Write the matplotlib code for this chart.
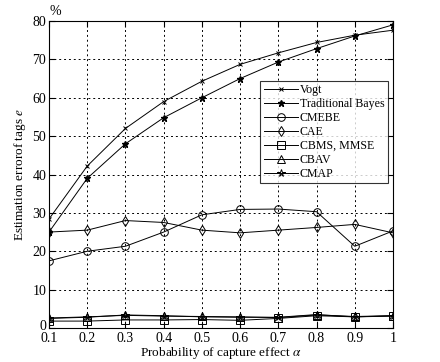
import matplotlib.pyplot as plt
import matplotlib.transforms as mtransforms

plt.rcParams["font.family"] = ["Liberation Serif", "DejaVu Serif"]
plt.rcParams["mathtext.fontset"] = "stix"

alpha = [0.1, 0.2, 0.3, 0.4, 0.5, 0.6, 0.7, 0.8, 0.9, 1.0]

vogt = [28.4, 42.2, 52.0, 59.0, 64.3, 68.7, 71.7, 74.4, 76.3, 77.6]
trad_bayes = [25.0, 39.0, 48.0, 54.8, 60.0, 65.0, 69.3, 72.8, 76.1, 79.0]
cmebe = [17.5, 20.0, 21.3, 25.0, 29.5, 30.9, 31.0, 30.3, 21.3, 25.3]
cae = [25.0, 25.5, 28.0, 27.5, 25.5, 24.8, 25.5, 26.2, 27.0, 24.8]
cbms = [1.8, 1.8, 2.1, 2.1, 2.2, 2.0, 2.5, 3.2, 2.9, 3.1]
cbav = [2.6, 2.9, 3.3, 3.1, 3.0, 2.9, 2.7, 3.4, 3.0, 3.2]
cmap = [2.5, 2.8, 3.4, 3.2, 2.9, 2.8, 2.8, 3.5, 2.9, 3.2]

fig = plt.figure(figsize=(4.4, 3.62), dpi=100)
ax = fig.add_axes([49 / 440, 34 / 362, 344 / 440, 307 / 362])

kw = dict(color="black", lw=0.7, mfc="none", mec="black", mew=0.7)
ax.plot(alpha, vogt, marker="x", ms=3.5, label="Vogt", **kw)
ax.plot(alpha, trad_bayes, marker="*", ms=4.5, label="Traditional Bayes", color="black", lw=0.7)
ax.plot(alpha, cmebe, marker="o", ms=5.5, label="CMEBE", **kw)
ax.plot(alpha, cae, marker="d", ms=5.5, label="CAE", **kw)
ax.plot(alpha, cbms, marker="s", ms=5.5, label="CBMS, MMSE", **kw)
ax.plot(alpha, cbav, marker="^", ms=5.5, label="CBAV", **kw)
ax.plot(alpha, cmap, marker="*", ms=5.5, label="CMAP", **kw)

ax.set_xlim(0.1, 1.0)
ax.set_ylim(0, 80)
ax.set_xticks(alpha)
ax.set_xticklabels(["0.1", "0.2", "0.3", "0.4", "0.5", "0.6", "0.7", "0.8", "0.9", "1"])
ax.set_yticks(range(0, 81, 10))
ax.tick_params(direction="in", top=True, right=True, labelsize=10, length=4, pad=2)
ax.tick_params(axis="x", pad=3)
ax.grid(True, color="black", linestyle=(0, (2, 3)), lw=0.7)
for s in ax.spines.values():
    s.set_linewidth(0.8)

# nudge the "0" label up a little so it clears "0.1"
fig.canvas.draw()
zero_lbl = ax.get_yticklabels()[0]
zero_lbl.set_transform(zero_lbl.get_transform()
                       + mtransforms.ScaledTranslation(0, 3 / 100, fig.dpi_scale_trans))

ax.set_xlabel(r"Probability of capture effect $\alpha$", fontsize=9.5, labelpad=0)
ax.set_ylabel(r"Estimation errorof tags $e$", fontsize=9.5, labelpad=3)
ax.text(0.0, 1.01, "%", transform=ax.transAxes, fontsize=10, ha="left", va="bottom")

leg = ax.legend(loc="upper right", bbox_to_anchor=(0.985, 0.805), fontsize=8.6,
                frameon=True, fancybox=False, edgecolor="black", handlelength=2.9,
                handletextpad=0.1, labelspacing=0.16, borderpad=0.3, borderaxespad=0)
leg.get_frame().set_linewidth(0.8)

fig.savefig("out.png", dpi=100)
